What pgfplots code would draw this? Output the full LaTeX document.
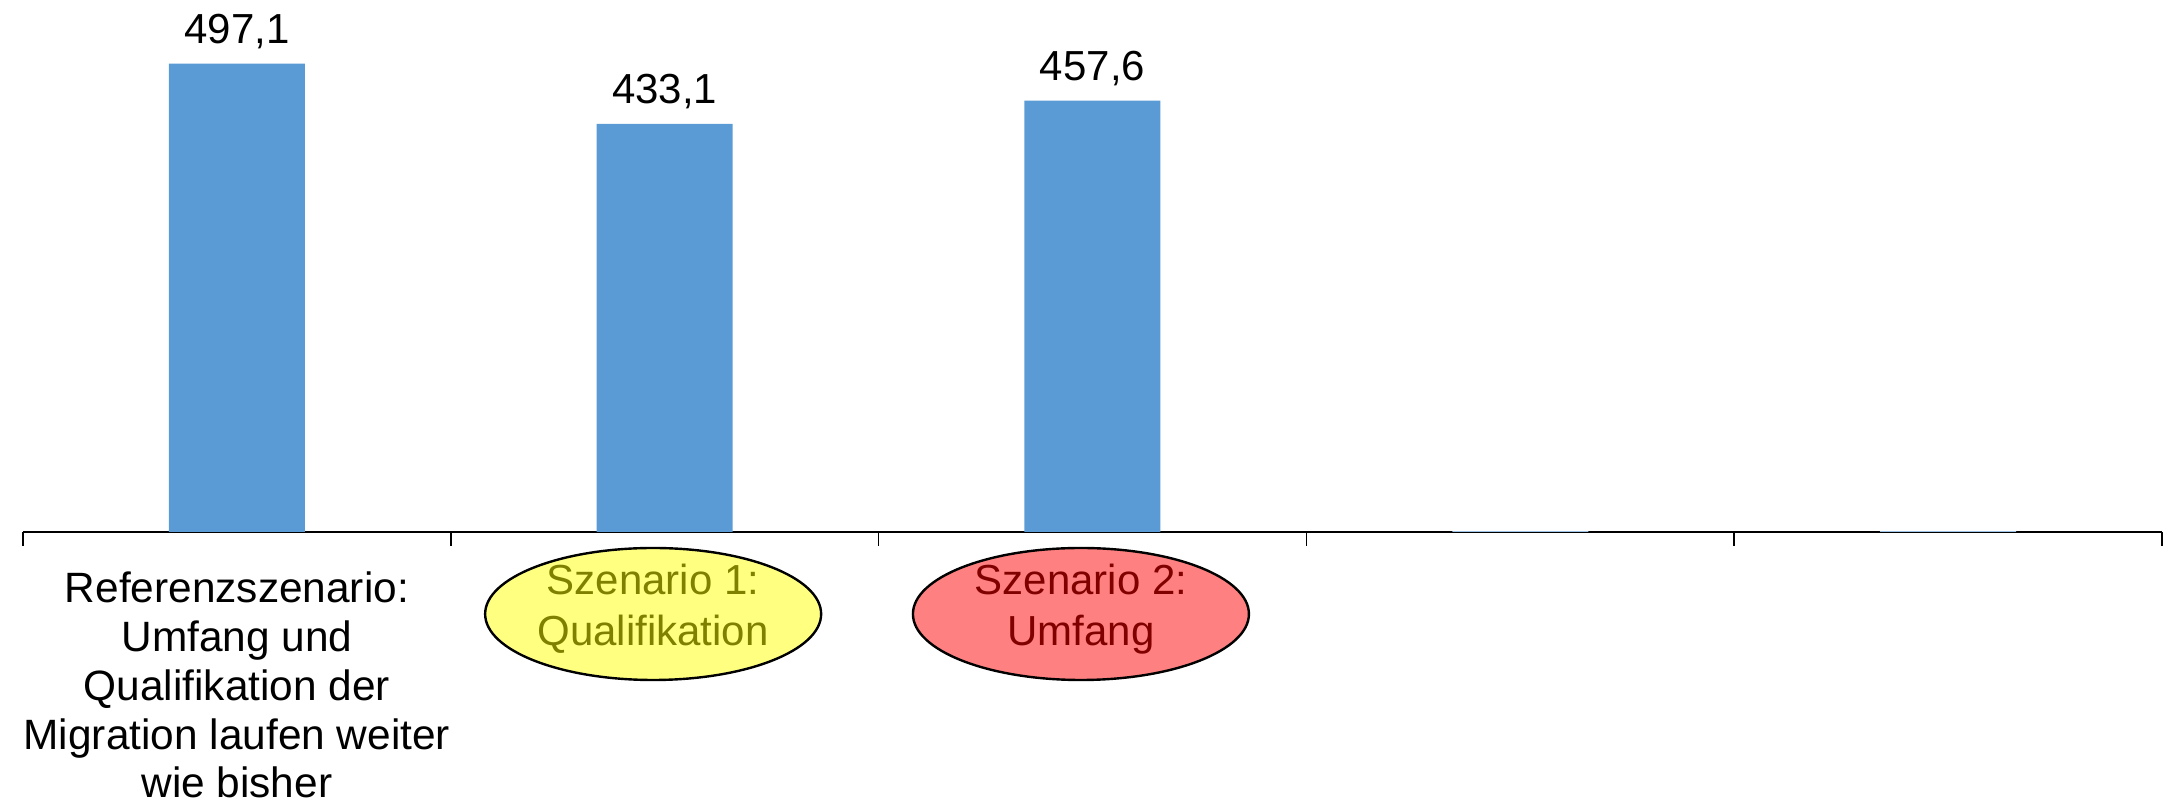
\documentclass[border=0pt]{standalone}
\usepackage{pgfplots}
\pgfplotsset{compat=1.18}
\usepackage{fontspec}
\setmainfont{Liberation Sans}
\usetikzlibrary{shapes.geometric}
\definecolor{barblue}{HTML}{5B9BD5}
\definecolor{ellyellow}{HTML}{FFFF80}
\definecolor{ellyeltext}{HTML}{808000}
\definecolor{ellred}{HTML}{FF8080}
\definecolor{ellredtext}{HTML}{800000}
\begin{document}
\begin{tikzpicture}
\useasboundingbox (-5.75pt,-67.25pt) rectangle (535.5pt,133pt);
\begin{axis}[
  at={(0,0)}, anchor=south west,
  scale only axis,
  width=534.75pt, height=133pt,
  xmin=-0.5, xmax=4.5, ymin=0, ymax=564.5,
  axis x line*=bottom, axis y line=none,
  x axis line style={line width=0.6pt},
  xtick={-0.5,0.5,1.5,2.5,3.5,4.5}, xticklabels={},
  tick align=outside, major tick length=3.5pt,
  xtick style={black, line width=0.4pt},
  ytick=\empty,
  clip=false,
  ybar, bar width=34pt,
  font=\fontsize{10.5}{12.2}\selectfont,
]
\addplot[fill=barblue, draw=none, bar shift=0pt,
  nodes near coords,
  nodes near coords style={anchor=base, yshift=5pt, inner sep=0pt, black, font=\fontsize{10.5}{12.2}\selectfont,
    /pgf/number format/.cd, use comma, fixed, precision=1, fixed zerofill, assume math mode=true}]
  coordinates {(0,497.1) (1,433.1) (2,457.6)};
\addplot[fill=barblue!60, draw=none, bar shift=0pt]
  coordinates {(3,1) (4,1)};
\node[anchor=north, align=center, inner sep=0pt, font=\fontsize{10.6}{12.2}\selectfont]
  at (axis cs:0,0) [yshift=-9.8pt]
  {Referenzszenario:\\Umfang und\\Qualifikation der\\Migration laufen weiter\\wie bisher};
\node[ellipse, draw=black, line width=0.6pt, fill=ellyellow, minimum width=84pt, minimum height=33pt, inner sep=0pt]
  at (axis cs:0.973,0) [yshift=-20.5pt] {};
\node[align=center, inner sep=0pt, text=ellyeltext, font=\fontsize{10.5}{12.75}\selectfont]
  at (axis cs:0.973,0) [yshift=-19.25pt] {Szenario 1:\\Qualifikation};
\node[ellipse, draw=black, line width=0.6pt, fill=ellred, minimum width=84pt, minimum height=33pt, inner sep=0pt]
  at (axis cs:1.973,0) [yshift=-20.5pt] {};
\node[align=center, inner sep=0pt, text=ellredtext, font=\fontsize{10.5}{12.75}\selectfont]
  at (axis cs:1.973,0) [yshift=-19.25pt] {Szenario 2:\\Umfang};
\end{axis}
\end{tikzpicture}
\end{document}
